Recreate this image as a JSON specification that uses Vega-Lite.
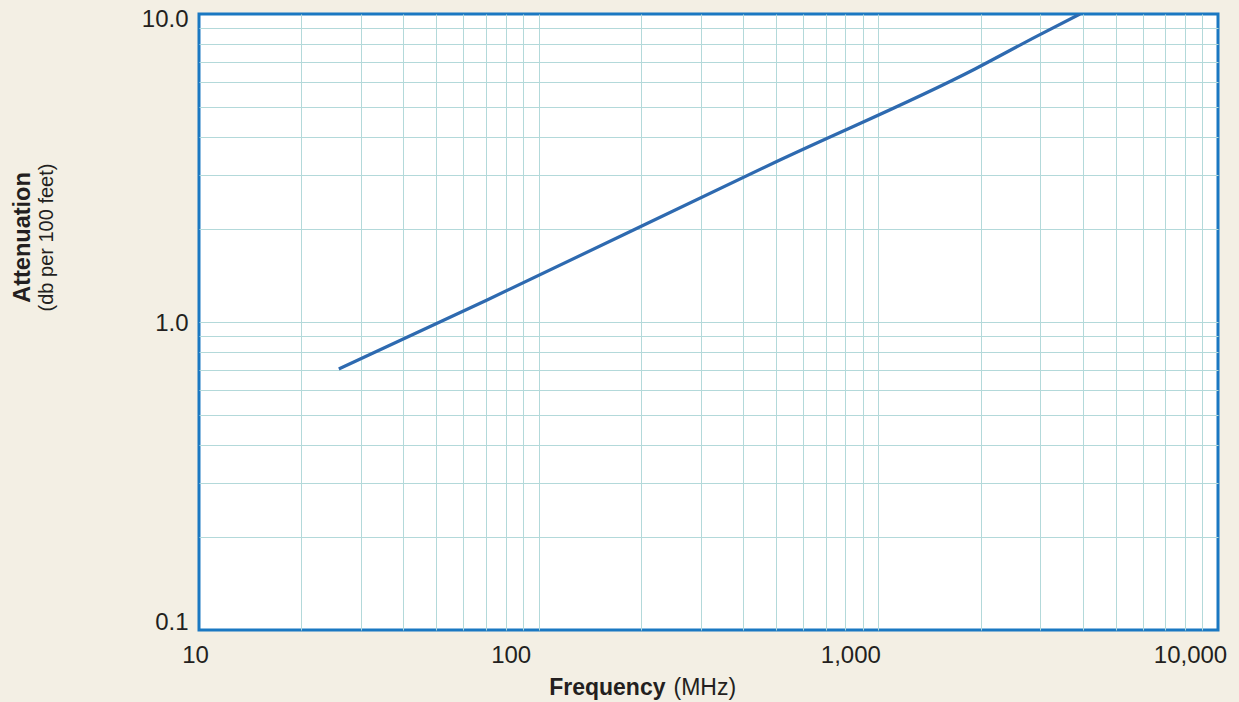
{
  "$schema": "https://vega.github.io/schema/vega-lite/v6.json",
  "width": 1019,
  "height": 616,
  "autosize": {"type": "none"},
  "padding": {"left": 199, "top": 14, "right": 21, "bottom": 72},
  "background": "#f3efe4",
  "config": {
    "view": {"fill": "#ffffff", "stroke": "#1a78c2", "strokeWidth": 3},
    "font": "Liberation Sans",
    "axis": {"labelFont": "Liberation Sans", "titleFont": "Liberation Sans"}
  },
  "data": {
    "values": [
      {"frequency_mhz": 25.8, "attenuation_db_per_100ft": 0.704},
      {"frequency_mhz": 70.5, "attenuation_db_per_100ft": 1.179},
      {"frequency_mhz": 513, "attenuation_db_per_100ft": 3.357},
      {"frequency_mhz": 1926, "attenuation_db_per_100ft": 6.63},
      {"frequency_mhz": 2932, "attenuation_db_per_100ft": 8.48},
      {"frequency_mhz": 3924, "attenuation_db_per_100ft": 10.0}
    ]
  },
  "layer": [
    {
      "mark": {"type": "line", "color": "#2e6ab0", "strokeWidth": 3.2, "clip": true, "interpolate": "monotone"},
      "encoding": {
        "x": {
          "field": "frequency_mhz",
          "type": "quantitative",
          "scale": {"type": "log", "domain": [10, 10000], "nice": false},
          "axis": {
            "orient": "bottom",
            "values": [10, 20, 30, 40, 50, 60, 70, 80, 90, 100, 200, 300, 400, 500, 600, 700, 800, 900, 1000, 2000, 3000, 4000, 5000, 6000, 7000, 8000, 9000, 10000],
            "labelExpr": "datum.value == 10 || datum.value == 100 || datum.value == 1000 || datum.value == 10000 ? format(datum.value, ',') : ''",
            "labelFlush": false,
            "labelOverlap": false,
            "labelFontSize": 24,
            "labelColor": "#231f20",
            "labelPadding": 13,
            "labelOffset": {"condition": {"test": "datum.value == 10", "value": -4}, "value": -28},
            "ticks": false,
            "domain": false,
            "grid": true,
            "gridColor": "#b3d9da",
            "gridWidth": 1,
            "gridOpacity": {"condition": {"test": "datum.value == 10 || datum.value == 10000", "value": 0}, "value": 1},
            "title": "Frequency",
            "titleFontSize": 23,
            "titleFontWeight": "bold",
            "titleColor": "#231f20",
            "titleAlign": "right",
            "titleBaseline": "alphabetic",
            "titleX": 466,
            "titleY": 64
          }
        },
        "y": {
          "field": "attenuation_db_per_100ft",
          "type": "quantitative",
          "scale": {"type": "log", "domain": [0.1, 10], "nice": false},
          "axis": {
            "orient": "left",
            "values": [0.1, 0.2, 0.3, 0.4, 0.5, 0.6, 0.7, 0.8, 0.9, 1, 2, 3, 4, 5, 6, 7, 8, 9, 10],
            "labelExpr": "datum.value == 0.1 || datum.value == 1 || datum.value == 10 ? format(datum.value, '.1f') : ''",
            "labelFlush": false,
            "labelOverlap": false,
            "labelFontSize": 24,
            "labelColor": "#231f20",
            "labelPadding": 11,
            "labelOffset": {"condition": [{"test": "datum.value == 10", "value": 5}, {"test": "datum.value == 0.1", "value": -8}], "value": 1},
            "ticks": false,
            "domain": false,
            "grid": true,
            "gridColor": "#b3d9da",
            "gridWidth": 1,
            "gridOpacity": {"condition": {"test": "datum.value == 0.1 || datum.value == 10", "value": 0}, "value": 1},
            "title": "Attenuation",
            "titleFontSize": 23.5,
            "titleFontWeight": "bold",
            "titleColor": "#231f20",
            "titleAngle": 270,
            "titleAlign": "center",
            "titleBaseline": "alphabetic",
            "titleX": -170,
            "titleY": 223
          }
        }
      }
    },
    {
      "mark": {"type": "line", "strokeOpacity": 0},
      "encoding": {
        "x": {
          "field": "frequency_mhz",
          "type": "quantitative",
          "axis": {
            "orient": "bottom",
            "labels": false,
            "ticks": false,
            "domain": false,
            "grid": false,
            "title": "(MHz)",
            "titleFontSize": 23,
            "titleFontWeight": "normal",
            "titleColor": "#231f20",
            "titleAlign": "left",
            "titleBaseline": "alphabetic",
            "titleX": 474,
            "titleY": 64
          }
        },
        "y": {
          "field": "attenuation_db_per_100ft",
          "type": "quantitative",
          "axis": {
            "orient": "left",
            "labels": false,
            "ticks": false,
            "domain": false,
            "grid": false,
            "title": "(db per 100 feet)",
            "titleFontSize": 20,
            "titleFontWeight": "normal",
            "titleColor": "#231f20",
            "titleAngle": 270,
            "titleAlign": "center",
            "titleBaseline": "alphabetic",
            "titleX": -147,
            "titleY": 223
          }
        }
      }
    }
  ],
  "resolve": {
    "scale": {"x": "shared", "y": "shared"},
    "axis": {"x": "independent", "y": "independent"}
  }
}
